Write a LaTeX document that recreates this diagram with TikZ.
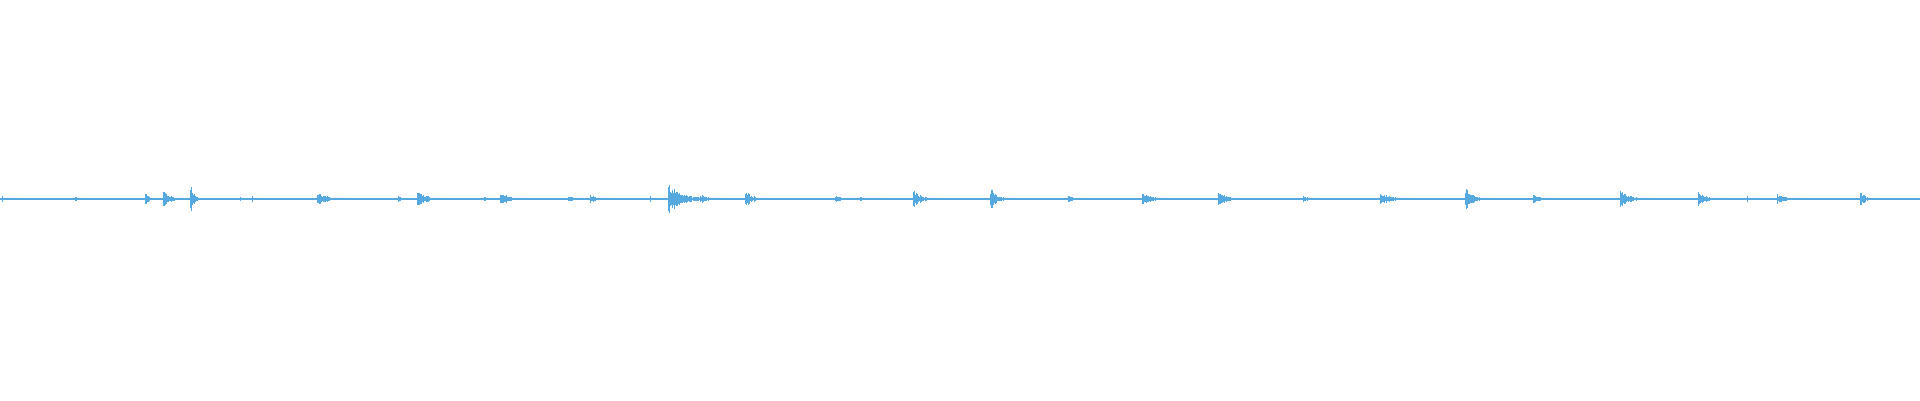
\documentclass[tikz,border=0pt]{standalone}
\begin{document}
\begin{tikzpicture}[x=1pt,y=-1pt,wave/.style={draw=wavec,line width=1.1pt}]
\definecolor{wavec}{HTML}{55A8E0}
\useasboundingbox (0,0) rectangle (1920,400);
\pgfmathsetseed{7}
\coordinate (L) at (0,199);
\coordinate (R) at (1920,199);
\draw[wave] (L) -- (R);
\foreach \bx/\ba/\bn in {2/3/16,75/3/6,145/7/8,163/8/20,190/15/8,240/3/4,252/3/4,317/7/30,327/3/10,398/4/8,417/9/25,484/4/6,500/7/25,568/3/20,590/4/20,650/3/6,668/14/45,700/5/20,745/9/20,835/3/22,860/2/20,913/9/25,990/10/25,1068/5/12,1142/7/25,1218/9/20,1303/4/12,1380/7/30,1465/11/25,1533/6/20,1620/8/30,1698/7/25,1747/3/10,1777/5/25,1860/8/12} {
  \foreach \i in {0,...,\bn} {
    \pgfmathsetmacro{\h}{max(1.3,\ba*exp(-\i/(0.3*\bn+1))*(0.5+0.6*rnd))}
    \draw[wavec,line width=1pt] (\bx+\i,199-\h) -- (\bx+\i,199+\h);
  }
}
\end{tikzpicture}
\end{document}
